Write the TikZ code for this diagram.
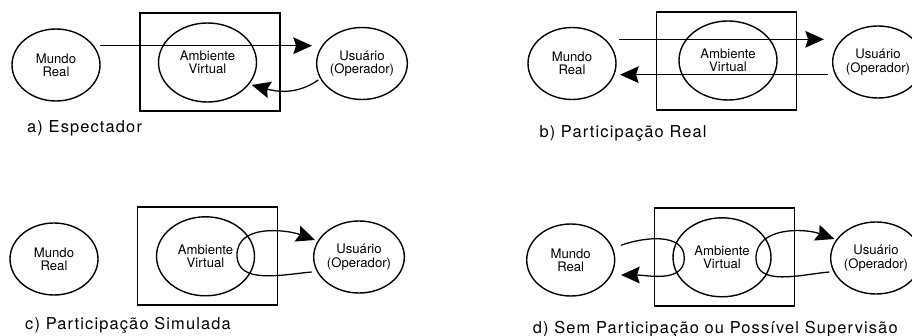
\documentclass[tikz,border=0pt]{standalone}
\usepackage{fontspec}
\setmainfont{TeX Gyre Heros}
\newfontfamily\capfont[LetterSpace=7]{TeX Gyre Heros}
\usetikzlibrary{shapes.geometric,arrows.meta}

\tikzset{
    EMPTY/.style={inner sep=0mm, minimum size=0mm, outer sep=0mm},
    WORLD/.style={draw=black, shape=ellipse, line width=1.2pt, inner sep=0mm,
        minimum width=26.4mm, minimum height=21.6mm, align=center,
        font={\fontsize{11.2}{11.4}\selectfont}},
    VIRTUAL/.style={WORLD, minimum width=29.4mm, minimum height=23.7mm},
    FRAME/.style={draw=black, shape=rectangle, line width=1.2pt,
        minimum width=42mm, minimum height=29.4mm},
    CAPTION/.style={anchor=base west, inner sep=0mm,
        font={\capfont\fontsize{14}{16}\selectfont}},
    EDGE/.style={draw=black, line width=1.1pt},
    ARROW_EDGE/.style={EDGE, -{Stealth[length=5.6mm, width=5mm, inset=0.8mm]}}
}
\pgfdeclarelayer{edgelayer}
\pgfdeclarelayer{nodelayer}
\pgfsetlayers{edgelayer,nodelayer,main}

\begin{document}
\begin{tikzpicture}[x=0.3mm, y=0.3mm]
    \useasboundingbox (0,0) rectangle (912,335);
    \begin{pgfonlayer}{nodelayer}
        % a) Espectador
        \node [WORLD] (1) at (56, 270) {Mundo\\Real};
        \node [VIRTUAL] (2) at (207.5, 272.5) {Ambiente\\Virtual};
        \node [WORLD] (3) at (362, 271.5) {Usuário\\(Operador)};
        \node [FRAME] (4) at (210, 273) {};
        \node [EMPTY] (5) at (100, 289.3) {};
        \node [EMPTY] (6) at (312, 289.3) {};
        \node [EMPTY] (7) at (318.3, 255) {};
        \node [EMPTY] (8) at (251.7, 250) {};
        \node [CAPTION] (9) at (27, 202.3) {a) Espectador};
        % b) Participacao Real
        \node [WORLD] (10) at (572, 271.5) {Mundo\\Real};
        \node [VIRTUAL] (11) at (728, 274.5) {Ambiente\\Virtual};
        \node [WORLD] (12) at (878, 273) {Usuário\\(Operador)};
        \node [FRAME] (13) at (726.3, 274) {};
        \node [EMPTY] (14) at (619, 295.7) {};
        \node [EMPTY] (15) at (824, 295.7) {};
        \node [EMPTY] (16) at (827.7, 260.3) {};
        \node [EMPTY] (17) at (620, 260.3) {};
        \node [CAPTION] (18) at (539.3, 197.3) {b) Participação Real};
        % c) Participacao Simulada
        \node [WORLD] (19) at (54, 76) {Mundo\\Real};
        \node [VIRTUAL] (20) at (205.5, 78.7) {Ambiente\\Virtual};
        \node [WORLD] (21) at (359, 78) {Usuário\\(Operador)};
        \node [FRAME] (22) at (207.7, 78.8) {};
        \node [EMPTY] (23) at (311.7, 63) {};
        \node [EMPTY] (24) at (237, 80) {};
        \node [EMPTY] (25) at (315, 95) {};
        \node [CAPTION] (26) at (25, 6) {c) Participação Simulada};
        % d) Sem Participacao
        \node [WORLD] (27) at (570.7, 75) {Mundo\\Real};
        \node [VIRTUAL] (28) at (722, 77.7) {Ambiente\\Virtual};
        \node [WORLD] (29) at (876, 77) {Usuário\\(Operador)};
        \node [FRAME] (30) at (724.7, 77.8) {};
        \node [EMPTY] (31) at (621, 89.7) {};
        \node [EMPTY] (32) at (684.3, 77) {};
        \node [EMPTY] (33) at (621, 60) {};
        \node [EMPTY] (34) at (829.3, 63) {};
        \node [EMPTY] (35) at (756, 77) {};
        \node [EMPTY] (36) at (834.3, 96) {};
        \node [CAPTION] (37) at (532.7, 1.3) {d) Sem Participação ou Possível Supervisão};
    \end{pgfonlayer}
    \begin{pgfonlayer}{edgelayer}
        \draw[ARROW_EDGE] (5) to (6);
        \draw[ARROW_EDGE] (7) to[out=215, in=-15] (8);
        \draw[ARROW_EDGE] (14) to (15);
        \draw[ARROW_EDGE] (16) to (17);
        \draw[ARROW_EDGE] (23) to[out=185, in=-90] (24) to[out=90, in=160] (25);
        \draw[ARROW_EDGE] (31) to[out=20, in=90] (32) to[out=-90, in=0] (33);
        \draw[ARROW_EDGE] (34) to[out=185, in=-90] (35) to[out=90, in=160] (36);
    \end{pgfonlayer}
\end{tikzpicture}
\end{document}
